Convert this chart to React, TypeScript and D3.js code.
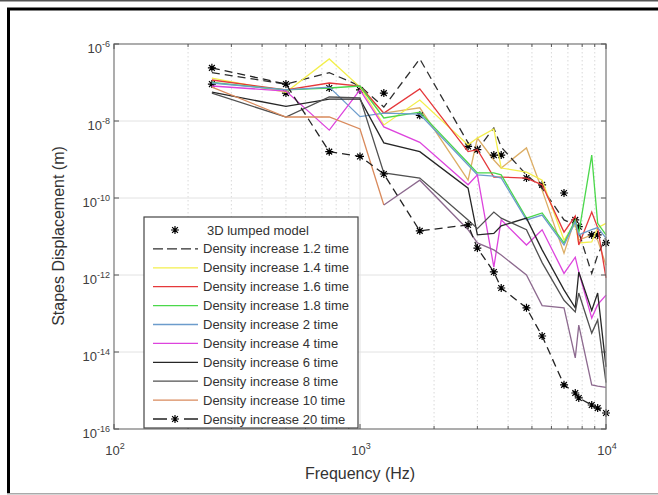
import React from 'react';
import * as d3 from 'd3';

const FREQS = [250, 500, 750, 1000, 1250, 1750, 2750, 3000, 3500, 3750, 4750, 5500, 6750, 7500, 7750, 8750, 9250, 10000];

const LUMPED = [9.1e-8, 5.3e-8, 7.2e-8, 6.4e-8, 5.3e-8, 1.4e-8, 2.2e-9, 1.8e-9, 1.3e-9, 1.3e-9, 3.3e-10, 2.2e-10, 1.35e-10, 2.7e-11, 1.8e-11, 1.1e-11, 1.1e-11, 6.8e-12];
const D1_2 = [1.8e-7, 9.1e-8, 1.8e-7, 8.1e-8, 2.3e-8, 4.1e-7, 2.7e-9, 1.8e-9, 6.6e-9, 2.1e-9, 4e-10, 1.8e-10, 2.7e-11, 2e-11, 1.3e-11, 1.1e-12, 3.3e-12, 9.7e-12];
const D1_4 = [1.3e-7, 5.6e-8, 4.1e-7, 7.6e-8, 7.9e-9, 3.5e-8, 2.4e-9, 3.6e-9, 6.2e-9, 6e-10, 4.7e-10, 2.9e-10, 8.1e-12, 2.2e-11, 6.8e-12, 7.2e-12, 1.7e-11, 2.2e-11];
const D1_6 = [1.16e-7, 6.4e-8, 9.7e-8, 8.1e-8, 1.6e-8, 6.8e-8, 1.6e-9, 1.8e-9, 3.5e-10, 3.5e-10, 3.3e-10, 2.2e-10, 1.3e-11, 3.4e-11, 6e-12, 4.3e-11, 1.7e-11, 8.4e-13];
const D1_8 = [1e-7, 6.4e-8, 7.2e-8, 8.1e-8, 1.2e-8, 1.7e-8, 8.1e-10, 4.5e-10, 4.5e-10, 4e-10, 3e-11, 4.1e-11, 6.8e-12, 2.7e-11, 1.2e-11, 1.3e-9, 2.2e-11, 1.1e-11];
const D2 = [9.7e-8, 6.4e-8, 7.6e-8, 1.3e-8, 1.6e-8, 1.5e-8, 7.2e-10, 4e-10, 3.7e-10, 3.3e-10, 2.7e-11, 3.6e-11, 6e-12, 2.4e-11, 1.1e-11, 1.5e-11, 1.7e-11, 9.1e-12];
const D4 = [8.1e-8, 6e-8, 5.8e-9, 6.4e-8, 7e-9, 2.8e-9, 2.2e-10, 4e-10, 1.6e-12, 2.7e-11, 6e-12, 1.5e-11, 1.1e-12, 2.9e-12, 1.2e-12, 7.6e-14, 1.7e-13, 3e-13];
const D6 = [5.6e-8, 2.4e-8, 3.7e-8, 3.7e-8, 2.7e-9, 1.6e-9, 1.8e-10, 1.1e-11, 1.2e-11, 1.9e-11, 3e-11, 4.5e-12, 4.1e-13, 1.4e-13, 1.2e-12, 1.2e-13, 3.4e-13, 4.1e-15];
const D8 = [5.3e-8, 1.27e-8, 4.2e-8, 4e-8, 4.5e-10, 3.3e-10, 2.7e-11, 1.6e-11, 4.3e-11, 3e-11, 1.5e-11, 2.1e-12, 2.2e-13, 1.1e-13, 3.4e-13, 3.1e-14, 6.8e-14, 1.6e-15];
const D10 = [7.6e-8, 1.27e-8, 1.27e-8, 6.2e-9, 6.6e-11, null, null, null, null, null, null, null, null, null, null, null, null, null];
const D20 = [2.4e-7, 9.1e-8, 1.6e-9, 1.2e-9, 4.2e-10, 1.4e-11, 2e-11, 5e-12, 1.2e-12, 4.6e-13, 1.4e-13, 2.6e-14, 1.4e-15, 8.6e-16, 6.4e-16, 4.2e-16, 3.5e-16, 2.6e-16];
const EXTRA_MAUVE = [null, null, null, null, 6.6e-11, 2.9e-10, 1.5e-11, 6.8e-12, 4.5e-12, 3.3e-12, 1e-12, 1.6e-13, 1.4e-13, 7e-15, 5e-14, 1.4e-15, 1.3e-15, 1.2e-15];
const EXTRA_TAN = [null, null, null, 7.2e-8, 1.6e-8, 2.2e-8, 2.9e-10, 3.6e-9, 9.7e-10, 6e-10, 2e-9, 1.6e-10, 3.7e-12, 3e-11, 8.1e-12, 1.1e-11, 8.1e-12, 1.8e-12];

const X_TICKS = [100, 1000, 10000];
const X_TICK_EXP = ['2', '3', '4'];
const Y_TICKS = [1e-6, 1e-8, 1e-10, 1e-12, 1e-14, 1e-16];
const Y_TICK_EXP = ['-6', '-8', '-10', '-12', '-14', '-16'];

const LEGEND_LABELS = [
  '3D lumped model',
  'Density increase 1.2 time',
  'Density increase 1.4 time',
  'Density increase 1.6 time',
  'Density increase 1.8 time',
  'Density increase 2 time',
  'Density increase 4 time',
  'Density increase 6 time',
  'Density increase 8 time',
  'Density increase 10 time',
  'Density increase 20 time',
];

type Series = { values: (number | null)[]; color: string; dash?: string; star?: boolean; noLine?: boolean };

const PLOT_SERIES: Series[] = [
  { values: LUMPED, color: '#111', star: true, noLine: true },
  { values: D1_2, color: '#2e2e2e', dash: '8,5' },
  { values: D1_4, color: '#f3ef4c' },
  { values: D1_6, color: '#e5383b' },
  { values: D1_8, color: '#4bd84b' },
  { values: D2, color: '#6c9ccc' },
  { values: D4, color: '#dd44dd' },
  { values: D6, color: '#262626' },
  { values: D8, color: '#505050' },
  { values: D10, color: '#d98a5c' },
  { values: D20, color: '#222', dash: '8,5', star: true },
];

const EXTRA_SERIES: Series[] = [
  { values: EXTRA_TAN, color: '#dcae66' },
  { values: EXTRA_MAUVE, color: '#8d6a8f' },
];

const STAR = 'M-4,0H4M0,-4V4M-2.9,-2.9L2.9,2.9M-2.9,2.9L2.9,-2.9';

export default function App() {
  const W = 658, H = 495;
  const L = 114, R = 606, T = 44, B = 429;
  const x = d3.scaleLog().domain([100, 10000]).range([L, R]);
  const y = d3.scaleLog().domain([1e-16, 1e-6]).range([B, T]);
  const lineGen = d3.line<number | null>()
    .defined((v) => v != null)
    .x((_, i) => x(FREQS[i]))
    .y((v) => y(v as number));

  const minorX: number[] = [];
  [100, 1000].forEach((d) => { for (let k = 2; k <= 9; k++) minorX.push(k * d); });

  const allSeries = [...EXTRA_SERIES.slice(0, 1), ...PLOT_SERIES.slice(0, 10), ...EXTRA_SERIES.slice(1), PLOT_SERIES[10]];

  const font = 'Liberation Sans, Arial, Helvetica, sans-serif';
  const lgX0 = 144, lgY0 = 217, lgX1 = 358, lgY1 = 428;
  const rowY = (i: number) => 230 + i * 18.9;

  return (
    <svg width={W} height={H} style={{ position: 'absolute', left: 0, top: 0, background: '#fff' }} fontFamily={font}>
      <rect x={0} y={0} width={W} height={H} fill="#fff" />
      {/* frame */}
      <line x1={0} x2={W} y1={0.8} y2={0.8} stroke="#555" strokeWidth={1.6} />
      <line x1={7} x2={W} y1={9} y2={9} stroke="#000" strokeWidth={3} />
      <line x1={8.5} x2={8.5} y1={8} y2={493} stroke="#000" strokeWidth={3} />
      <line x1={7} x2={W} y1={493.8} y2={493.8} stroke="#aaa" strokeWidth={1.4} />

      {/* grid */}
      {minorX.map((v) => (
        <line key={'mg' + v} x1={x(v)} x2={x(v)} y1={T} y2={B} stroke="#cfcfcf" strokeWidth={0.8} strokeDasharray="1.5,2.5" />
      ))}
      <line x1={x(1000)} x2={x(1000)} y1={T} y2={B} stroke="#e2e2e2" strokeWidth={1} />
      {Y_TICKS.slice(1, 5).map((v) => (
        <line key={'hg' + v} x1={L} x2={R} y1={y(v)} y2={y(v)} stroke="#e2e2e2" strokeWidth={1} />
      ))}

      {/* series */}
      {allSeries.map((s, si) => (
        <g key={'s' + si}>
          {!s.noLine && (
            <path d={lineGen(s.values) || ''} fill="none" stroke={s.color} strokeWidth={1.3} strokeDasharray={s.dash} />
          )}
          {s.star && s.values.map((v, i) => v == null ? null : (
            <path key={i} d={STAR} transform={`translate(${x(FREQS[i])},${y(v)})`} stroke="#000" strokeWidth={1.2} fill="none" />
          ))}
        </g>
      ))}

      {/* axes box */}
      <rect x={L} y={T} width={R - L} height={B - T} fill="none" stroke="#8a8a8a" strokeWidth={1.4} />
      {minorX.map((v) => (
        <g key={'mt' + v}>
          <line x1={x(v)} x2={x(v)} y1={B} y2={B - 3} stroke="#555" strokeWidth={1} />
          <line x1={x(v)} x2={x(v)} y1={T} y2={T + 3} stroke="#555" strokeWidth={1} />
        </g>
      ))}
      {X_TICKS.map((v) => (
        <g key={'xt' + v}>
          <line x1={x(v)} x2={x(v)} y1={B} y2={B - 5} stroke="#555" strokeWidth={1} />
          <line x1={x(v)} x2={x(v)} y1={T} y2={T + 5} stroke="#555" strokeWidth={1} />
        </g>
      ))}
      {Y_TICKS.map((v) => (
        <g key={'yt' + v}>
          <line x1={L} x2={L + 5} y1={y(v)} y2={y(v)} stroke="#555" strokeWidth={1} />
          <line x1={R} x2={R - 5} y1={y(v)} y2={y(v)} stroke="#555" strokeWidth={1} />
        </g>
      ))}

      {/* tick labels */}
      {X_TICKS.map((v, i) => (
        <text key={'xl' + v} x={x(v) + 1} y={455} textAnchor="middle" fontSize={13} fill="#404040">
          10<tspan dy={-6} fontSize={9}>{X_TICK_EXP[i]}</tspan>
        </text>
      ))}
      {Y_TICKS.map((v, i) => (
        <text key={'yl' + v} x={110} y={y(v) + 9} textAnchor="end" fontSize={13} fill="#404040">
          10<tspan dy={-6} fontSize={9}>{Y_TICK_EXP[i]}</tspan>
        </text>
      ))}

      {/* axis titles */}
      <text x={360} y={479} textAnchor="middle" fontSize={16} fill="#333">Frequency (Hz)</text>
      <text transform="translate(64,236) rotate(-90)" textAnchor="middle" fontSize={16} fill="#333">Stapes Displacement (m)</text>

      {/* legend */}
      <rect x={lgX0} y={lgY0} width={lgX1 - lgX0} height={lgY1 - lgY0} fill="#fff" stroke="#444" strokeWidth={1.2} />
      {LEGEND_LABELS.map((lab, i) => {
        const s = PLOT_SERIES[i];
        const yy = rowY(i);
        return (
          <g key={'lg' + i}>
            {!s.noLine && (
              <line x1={153} x2={198} y1={yy} y2={yy} stroke={s.color} strokeWidth={1.3} strokeDasharray={s.dash ? (s.star ? '14,17' : '10,4') : undefined} />
            )}
            {s.star && <path d={STAR} transform={`translate(175,${yy})`} stroke="#000" strokeWidth={1.2} fill="none" />}
            <text x={i === 0 ? 207 : 203} y={yy + 4.5} fontSize={13} fill="#333">{lab}</text>
          </g>
        );
      })}
    </svg>
  );
}
